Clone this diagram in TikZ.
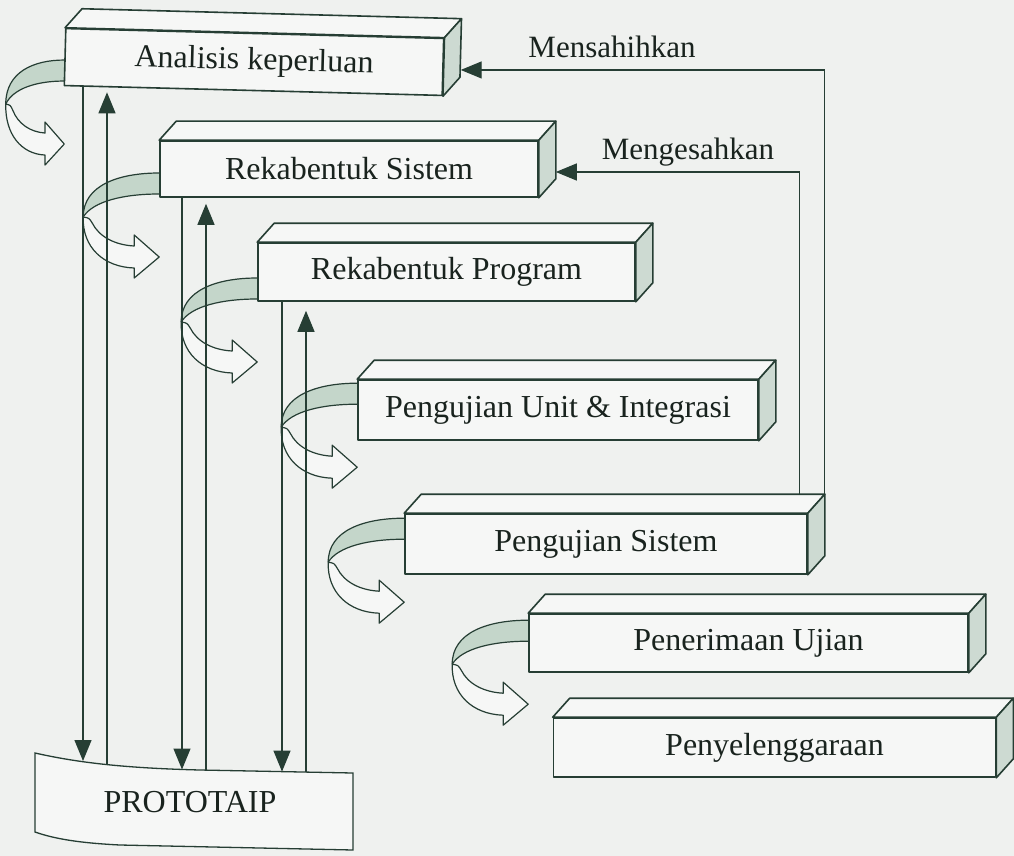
\documentclass[tikz,border=0pt]{standalone}
\usepackage{fontspec}
\setmainfont{Liberation Serif}
\usetikzlibrary{calc,arrows.meta}
\definecolor{bg}{RGB}{239,241,239}
\definecolor{ln}{RGB}{38,62,52}
\definecolor{face}{RGB}{246,247,246}
\definecolor{sidec}{RGB}{205,218,210}
\definecolor{bandc}{RGB}{196,214,202}
\definecolor{txt}{RGB}{25,35,30}
\pgfdeclarelayer{bgl}
\pgfdeclarelayer{back}
\pgfsetlayers{bgl,back,main}
\tikzset{
  edge/.style={draw=ln, line width=1.6pt, line join=round},
  front/.style={edge, fill=face, inner sep=0pt, font=\fontsize{32}{38}\selectfont, text=txt},
  rib/.style={draw=ln, line width=1.2pt, line join=round},
  conn/.style={draw=ln, line width=1.3pt},
  arr/.style={conn, -{Triangle[length=21pt,width=17pt]}},
  lbl/.style={font=\fontsize{31}{36}\selectfont, text=txt},
}
\newcommand{\cubefaces}[1]{%
  \draw[edge, fill=face] (#1.north west) -- ($(#1.north west)+(17,-19)$) -- ($(#1.north east)+(17,-19)$) -- (#1.north east) -- cycle;
  \draw[edge, fill=sidec] (#1.north east) -- ($(#1.north east)+(17,-19)$) -- ($(#1.south east)+(17,-19)$) -- (#1.south east) -- cycle;
  \coordinate (#1-tbr) at ($(#1.north east)+(17,-19)$);
}
\newcommand{\ribbon}[2][1]{%
  \begin{scope}[shift={(#2)}, xscale=#1]
    \fill[bandc] (0,0) .. controls (-40,0) and (-76,12) .. (-76,44) .. controls (-66,28) and (-35,21) .. (0,21) -- cycle;
    \draw[rib] (0,0) .. controls (-40,0) and (-76,12) .. (-76,44);
    \draw[rib] (0,21) .. controls (-35,21) and (-66,28) .. (-76,44);
    \draw[rib, fill=face] (-76,44) .. controls (-77,74) and (-56,94) .. (-25,95) -- (-25,105) -- (0,84) -- (-25,62) -- (-25,73) .. controls (-44,72) and (-60,64) .. (-67,50) .. controls (-70,45) .. (-76,44) -- cycle;
  \end{scope}}
\begin{document}
\begin{tikzpicture}[x=1pt,y=-1pt]
\useasboundingbox (0,0) rectangle (1014,856);
\begin{pgfonlayer}{bgl}
  \fill[bg] (0,0) rectangle (1014,856);
\end{pgfonlayer}

% boxes (front faces)
\node[front, minimum width=378pt, minimum height=57pt, rotate=-1.5] (b1) at (254,62) {Analisis keperluan};
\node[front, minimum width=378pt, minimum height=56pt] (b2) at (349,169) {Rekabentuk Sistem};
\node[front, minimum width=377pt, minimum height=58pt] (b3) at (446.5,272) {Rekabentuk Program};
\node[front, minimum width=400pt, minimum height=60pt] (b4) at (558,410) {Pengujian Unit \& Integrasi};
\node[front, minimum width=402pt, minimum height=60pt] (b5) at (606,544) {Pengujian Sistem};
\node[front, minimum width=439pt, minimum height=58pt] (b6) at (748.5,643) {Penerimaan Ujian};
\node[front, minimum width=442pt, minimum height=59pt] (b7) at (774.5,747.5) {Penyelenggaraan};
\cubefaces{b1}
\cubefaces{b2}
\cubefaces{b3}
\cubefaces{b4}
\cubefaces{b5}
\cubefaces{b6}
\cubefaces{b7}

% curved ribbon arrows
\begin{pgfonlayer}{back}
  \ribbon[0.77]{$(b1.west)+(0,3)$}
  \ribbon{$(b2.west)+(0,4)$}
  \ribbon{$(b3.west)+(0,6)$}
  \ribbon{$(b4.north west)+(0,4)$}
  \ribbon{$(b5.north west)+(0,5)$}
  \ribbon{$(b6.north west)+(0,7)$}
\end{pgfonlayer}

% prototype
\draw[conn, fill=face] (35,753) .. controls (75,762) and (120,768) .. (200,770) -- (353,773) -- (353,850) -- (120,845) .. controls (80,843) and (55,839) .. (35,832) -- cycle;
\node[font=\fontsize{32}{38}\selectfont, text=txt] (proto) at (190,802) {PROTOTAIP};
\coordinate (p1) at (83,761);
\coordinate (q1) at (107,764.5);
\coordinate (p2) at (182,769.5);
\coordinate (q2) at (206,770.1);
\coordinate (p3) at (282,771.6);
\coordinate (q3) at (306,772.1);

\draw[arr] (b1.south west -| p1) -- (p1);
\draw[arr, shorten >=6pt] (q1) -- (b1.south west -| q1);
\draw[arr] (b2.south west -| p2) -- (p2);
\draw[arr, shorten >=6pt] (q2) -- (b2.south west -| q2);
\draw[arr] (b3.south west -| p3) -- (p3);
\draw[arr, shorten >=9pt] (q3) -- (b3.south west -| q3);

% feedback
\coordinate (in1) at ($(b1.east)+(17,3)$);
\coordinate (in2) at ($(b2.east)+(17,3)$);
\coordinate (out2) at ($(b5-tbr)+(-25,0)$);
\draw[arr] (b5-tbr) |- (in1);
\draw[arr] (out2) |- (in2);
\node[lbl] (lab1) at (612,47) {Mensahihkan};
\node[lbl] (lab2) at (688,152) {Mengesahkan};
\end{tikzpicture}
\end{document}
